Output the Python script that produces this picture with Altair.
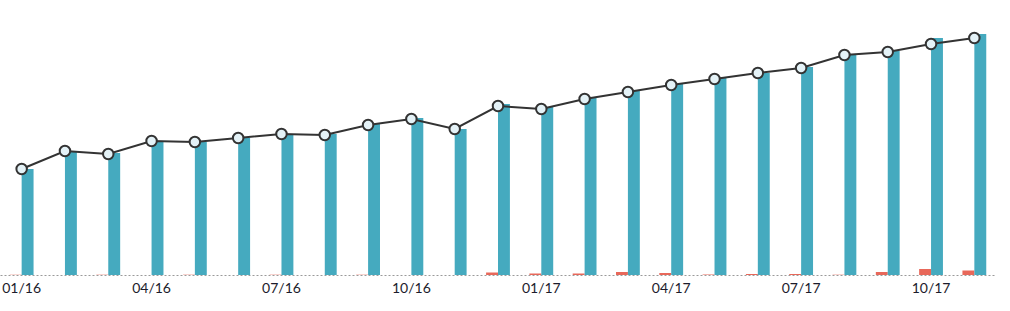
import altair as alt
import pandas as pd

months = ["01/16", "02/16", "03/16", "04/16", "05/16", "06/16", "07/16", "08/16",
          "09/16", "10/16", "11/16", "12/16", "01/17", "02/17", "03/17", "04/17",
          "05/17", "06/17", "07/17", "08/17", "09/17", "10/17", "11/17"]
teal_values = [106, 123, 122, 134, 133, 137, 140, 141, 151, 157, 146, 171,
               168, 177, 184, 191, 197, 202, 208, 221, 224, 237, 241]
red_values = [0.3, 0, 0.3, 0, 0.3, 0, 0.3, 0, 0.3, 0, 0, 2.5,
              1.5, 1.5, 3, 2, 0.5, 1, 1, 0.3, 3, 6, 4.5]
line_values = [106, 124, 121, 134, 133, 137, 141, 140, 150, 156, 146, 169,
               166, 176, 183, 190, 196, 202, 207, 220, 223, 231, 237]
quarter_labels = ["01/16", "04/16", "07/16", "10/16", "01/17", "04/17", "07/17", "10/17"]

bars = pd.DataFrame({
    "month": months * 2,
    "series": ["A"] * len(months) + ["B"] * len(months),
    "value": red_values + teal_values,
})
line_df = pd.DataFrame({"month": months, "value": line_values})

x_scale = alt.Scale(domain=months, paddingInner=0.45, paddingOuter=0.225)
y_scale = alt.Scale(domain=[0, 275], nice=False, zero=True)

x_axis = alt.Axis(values=quarter_labels, title=None, ticks=False, grid=False,
                  labelAngle=0, labelFont="Lato", labelFontSize=14, labelColor="#1c1c2c",
                  labelPadding=6, domainColor="#9a9a9a", domainDash=[2, 2], domainWidth=1,
                  zindex=1)

bar_layer = alt.Chart(bars).mark_bar().encode(
    x=alt.X("month:N", scale=x_scale, axis=x_axis, sort=months),
    xOffset=alt.XOffset("series:N", scale=alt.Scale(domain=["A", "B"], paddingInner=0, paddingOuter=0)),
    y=alt.Y("value:Q", scale=y_scale, axis=None),
    color=alt.Color("series:N", scale=alt.Scale(domain=["A", "B"], range=["#e8685a", "#45aabf"]), legend=None),
)

line_layer = alt.Chart(line_df).mark_line(color="#333333", strokeWidth=2).encode(
    x=alt.X("month:N", scale=x_scale, axis=x_axis, sort=months),
    y=alt.Y("value:Q", scale=y_scale, axis=None),
)

point_layer = alt.Chart(line_df).mark_point(
    filled=False, fill="#e4f2f7", fillOpacity=1, stroke="#333333", strokeWidth=2, size=110, opacity=1
).encode(
    x=alt.X("month:N", scale=x_scale, axis=x_axis, sort=months),
    y=alt.Y("value:Q", scale=y_scale, axis=None),
)

chart = alt.layer(bar_layer, line_layer, point_layer).properties(
    width=996, height=275,
    padding={"left": 0, "top": 0, "right": 10, "bottom": 5},
).configure_view(stroke=None)

chart.save("out.html", embed_options={"renderer": "svg", "actions": False})
